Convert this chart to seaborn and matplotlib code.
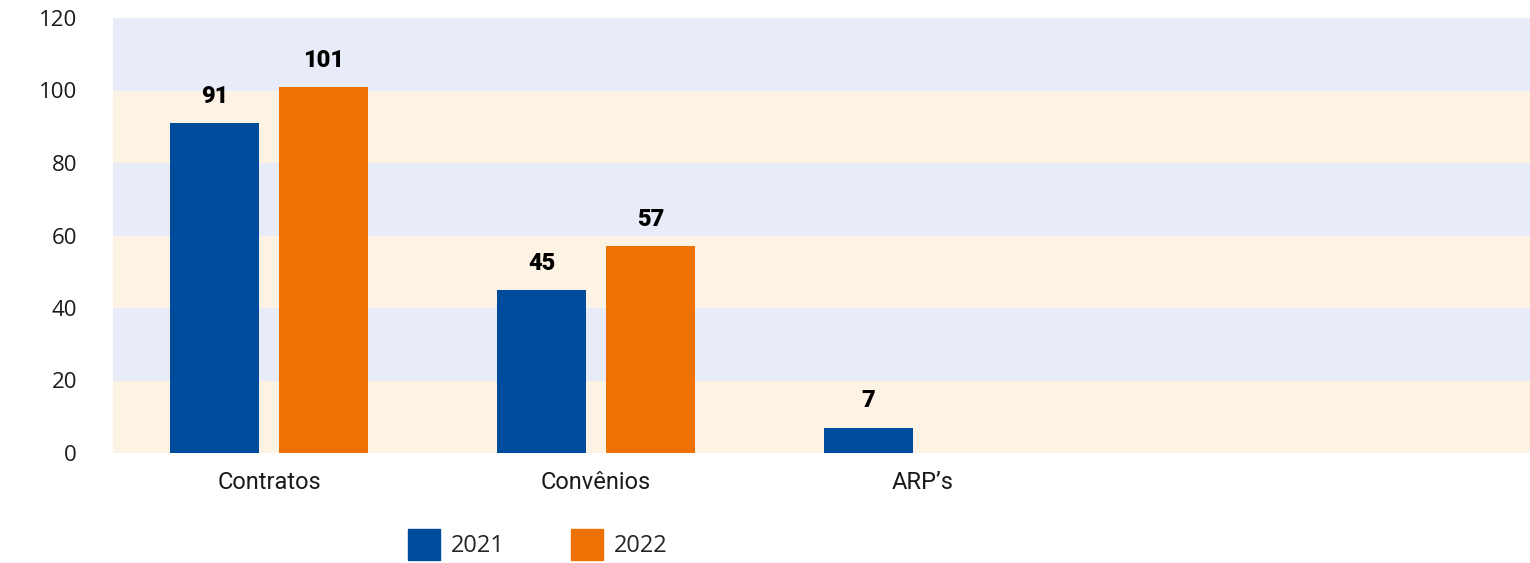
import pandas as pd
import matplotlib.pyplot as plt
import seaborn as sns
from matplotlib.patches import Patch

# Data
categories = ["Contratos", "Convênios", "ARP’s"]
years = ["2021", "2022"]
values_2021 = [91, 45, 7]
values_2022 = [101, 57, None]

blue = "#004C9C"
orange = "#EE7203"

df = pd.DataFrame({
    "categoria": categories * 2,
    "ano": [years[0]] * 3 + [years[1]] * 3,
    "valor": values_2021 + values_2022,
})

sns.set_theme(style="white")
plt.rcParams["font.family"] = ["Open Sans", "DejaVu Sans"]

fig = plt.figure(figsize=(15.3, 5.63), dpi=100)
ax = fig.add_axes([113 / 1530, 110 / 563, 1 - 113 / 1530, 435 / 563])

# Alternating background bands
band_colors = ["#FDF3E4", "#E8ECF8"]
for i, y0 in enumerate(range(0, 120, 20)):
    ax.axhspan(y0, y0 + 20, color=band_colors[i % 2], zorder=0, lw=0)

sns.barplot(data=df, x="categoria", y="valor", hue="ano", order=categories,
            hue_order=years, palette=[blue, orange], width=0.667, gap=0.183,
            saturation=1, linewidth=0, ax=ax, zorder=2, legend=False)

# Value labels above the bars
for cont in ax.containers:
    ax.bar_label(cont, fmt="%d", padding=11, fontsize=17, fontweight="black",
                 family=["Roboto", "DejaVu Sans"], fontstretch="condensed",
                 color="black")

ax.set_xlim(-0.477, 3.856)
ax.set_ylim(0, 120)
ax.set_yticks(range(0, 121, 20))
ax.set_xlabel("")
ax.set_ylabel("")
ax.tick_params(axis="y", length=0, pad=26, labelsize=16, labelcolor="#1a1a1a")
ax.tick_params(axis="x", length=0, pad=13, labelsize=16, labelcolor="#1a1a1a")
for lab in ax.get_xticklabels():
    lab.set_family(["Liberation Sans Narrow", "Roboto", "DejaVu Sans"])
    lab.set_fontsize(17)
sns.despine(ax=ax, left=True, bottom=True)

handles = [Patch(color=blue, label="2021"), Patch(color=orange, label="2022")]
fig.legend(handles=handles, loc="upper left", bbox_to_anchor=(408 / 1530, 34 / 563),
           ncol=2, frameon=False, fontsize=17, handlelength=1.36, handleheight=1.67,
           handletextpad=0.45, columnspacing=2.8, borderpad=0, borderaxespad=0)

plt.savefig("out.png", dpi=100)
plt.close()
